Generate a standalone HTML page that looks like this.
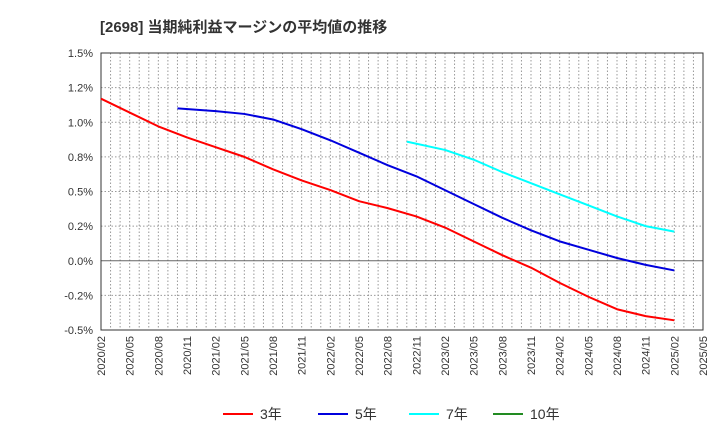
<!DOCTYPE html>
<html><head><meta charset="utf-8"><style>
body{margin:0;background:#fff;font-family:"Liberation Sans","Noto Sans CJK JP",sans-serif}
</style></head><body>
<svg id="c" width="720" height="440" xmlns="http://www.w3.org/2000/svg">
<text x="100" y="32" font-size="15" font-weight="bold" fill="#333" font-family="Liberation Sans, Noto Sans CJK JP, sans-serif">[2698]  当期純利益マージンの平均値の推移</text>
<g id="grid"></g><g id="axes"></g><g id="series"></g><g id="legend"></g>
</svg>
<script>
const yTicks=[1.5,1.25,1.0,0.75,0.5,0.25,0,-0.25,-0.5];
const yTickLabels=["1.5%","1.2%","1.0%","0.8%","0.5%","0.2%","0.0%","-0.2%","-0.5%"];
const xTickLabels=["2020/02","2020/05","2020/08","2020/11","2021/02","2021/05","2021/08","2021/11","2022/02","2022/05","2022/08","2022/11","2023/02","2023/05","2023/08","2023/11","2024/02","2024/05","2024/08","2024/11","2025/02","2025/05"];
const s3Months=[0,3,6,9,12,15,18,21,24,27,30,33,36,39,42,45,48,51,54,57,60];
const s3Values=[1.17,1.07,0.97,0.89,0.82,0.75,0.66,0.58,0.51,0.43,0.38,0.32,0.24,0.14,0.04,-0.05,-0.16,-0.26,-0.35,-0.40,-0.43];
const s5Months=[8,12,15,18,21,24,27,30,33,36,39,42,45,48,51,54,57,60];
const s5Values=[1.10,1.08,1.06,1.02,0.95,0.87,0.78,0.69,0.61,0.51,0.41,0.31,0.22,0.14,0.08,0.02,-0.03,-0.07];
const s7Months=[32,36,39,42,45,48,51,54,57,60];
const s7Values=[0.86,0.80,0.73,0.64,0.56,0.48,0.40,0.32,0.25,0.21];
const legendNames=["3年","5年","7年","10年"];
const legendColors=["#ff0000","#0000dd","#00ffff","#228B22"];

const L=101,R=703,T=53,B=330,NM=63;
const x=m=>L+m*(R-L)/NM;
const y=v=>T+(1.5-v)*(B-T)/2;
const NS="http://www.w3.org/2000/svg";
function mk(tag,parent,attrs){const e=document.createElementNS(NS,tag);for(const k in attrs)e.setAttribute(k,attrs[k]);document.getElementById(parent).appendChild(e);return e;}
for(let m=1;m<NM;m++){const e=mk("line","grid",{x1:x(m),x2:x(m),y1:T,y2:B,stroke:"#999","stroke-dasharray":"1.5,2","stroke-width":1});

}
yTicks.forEach((v,i)=>{
 if(v!==1.5&&v!==-0.5){const g=mk("line","grid",{x1:L,x2:R,y1:y(v),y2:y(v),stroke:v===0?"#666":"#999","stroke-dasharray":v===0?"none":"1.5,2","stroke-width":1});
 
 }
 const t=mk("text","axes",{x:L-8,y:y(v)+4,"text-anchor":"end","font-size":11,fill:"#333"});t.textContent=yTickLabels[i];
 
 
});
const fr=mk("rect","axes",{x:L,y:T,width:R-L,height:B-T,fill:"none",stroke:"#333","stroke-width":1});


xTickLabels.forEach((lab,i)=>{const xx=x(i*3);const t=mk("text","axes",{x:xx+4,y:B+6,"text-anchor":"end","font-size":11,fill:"#333",transform:`rotate(-90 ${xx+4} ${B+6})`});t.textContent=lab;
 
 });
function series(ms,vs,color,name){const p=mk("polyline","series",{points:ms.map((m,i)=>x(m)+","+y(vs[i])).join(" "),fill:"none",stroke:color,"stroke-width":2,"stroke-linejoin":"round"});
 
 }
series(s3Months,s3Values,legendColors[0],"series-3y");
series(s5Months,s5Values,legendColors[1],"series-5y");
series(s7Months,s7Values,legendColors[2],"series-7y");
const lx=[223,318,409,493];
legendNames.forEach((n,i)=>{
 const l=mk("line","legend",{x1:lx[i],x2:lx[i]+30,y1:414,y2:414,stroke:legendColors[i],"stroke-width":2});
 
 
 const t=mk("text","legend",{x:lx[i]+37,y:419,"font-size":14,fill:"#333"});t.textContent=n;
 
 
});
</script>
</body></html>
